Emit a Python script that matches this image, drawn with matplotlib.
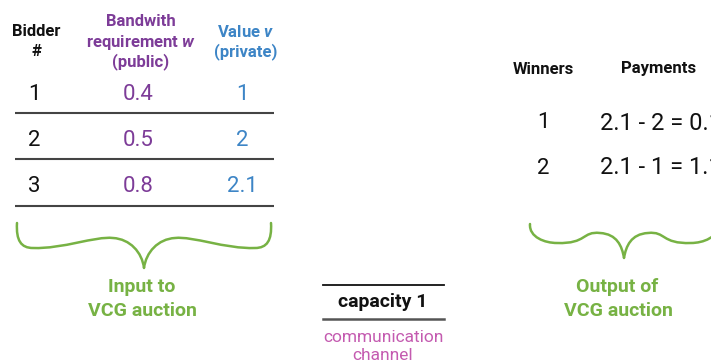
import matplotlib.pyplot as plt
from matplotlib.path import Path
from matplotlib.patches import PathPatch

plt.rcParams['font.family'] = ['Roboto', 'DejaVu Sans']
plt.rcParams['mathtext.fontset'] = 'custom'
plt.rcParams['mathtext.it'] = 'Roboto:italic:bold'

# data
bidders = [1, 2, 3]
bandwidth = [0.4, 0.5, 0.8]
values = [1, 2, 2.1]
winners = [1, 2]
pay_price = [2.1, 2.1]
pay_minus = [2, 1]
payments = [0.1, 1.1]
capacity = 1

PURPLE = '#7d3c98'
BLUE = '#3d85c6'
GREEN = '#77b244'
PINK = '#c45bb0'
DARK = '#111111'


def brace(ax, cx, top, xs, ys, color):
    # xs/ys: offsets of the key points from the centre (left half), mirrored for the right
    x0, x1, x2, x3 = xs
    y0, y1, y2, y3 = ys
    left = [(cx + x0, top + y0),
            (cx + x0 - 1, top + y1 * 0.7), (cx + x1 - 12, top + y1), (cx + x1, top + y1),
            (cx + x1 + 30, top + y1 + 1), (cx + x2 - 18, top + y2 - 2), (cx + x2, top + y2),
            (cx + x2 + 17, top + y2 + 1), (cx - 2, top + y3 * 0.65), (cx, top + y3)]
    right = [(2 * cx - x, y) for x, y in reversed(left)]
    verts = left + right[1:]
    codes = [Path.MOVETO] + [Path.CURVE4] * 9 + [Path.CURVE4] * 9
    ax.add_patch(PathPatch(Path(verts, codes), fill=False, edgecolor=color, lw=1.8,
                           capstyle='round', joinstyle='round'))


fig = plt.figure(figsize=(7.11, 3.62), dpi=100)
ax = fig.add_axes([0, 0, 1, 1])
ax.set_xlim(0, 711)
ax.set_ylim(362, 0)
ax.axis('off')

# input table header
hdr = dict(ha='center', va='center', fontsize=12, fontweight='bold')
ax.text(36, 32, 'Bidder', color=DARK, **hdr)
ax.text(36, 52, '#', color=DARK, **hdr)
ax.text(141, 22, 'Bandwith', color=PURPLE, **hdr)
ax.text(141, 42, 'requirement $w$', color=PURPLE, **hdr)
ax.text(141, 62, '(public)', color=PURPLE, **hdr)
ax.text(246, 32, 'Value $v$', color=BLUE, **hdr)
ax.text(246, 52, '(private)', color=BLUE, **hdr)

row_y = [94, 140, 186]
line_y = [113, 159, 206]
num = dict(ha='center', va='center', fontsize=16, fontweight='normal')
for b, w, v, ry, ly in zip(bidders, bandwidth, values, row_y, line_y):
    ax.text(34, ry, f'{b}', color=DARK, **num)
    ax.text(138, ry, f'{w:g}', color=PURPLE, **num)
    ax.text(242, ry, f'{v:g}', color=BLUE, **num)
    ax.plot([15, 274], [ly, ly], color='#444444', lw=1.5, solid_capstyle='butt')

brace(ax, 144, 223, (-127, -111, -31, 0), (0, 25, 15, 45), GREEN)
lab = dict(ha='center', va='center', fontsize=14, fontweight='bold', color=GREEN)
ax.text(142, 287, 'Input to', **lab)
ax.text(142, 311, 'VCG auction', **lab)

# channel
ax.plot([323, 444], [285, 285], color=DARK, lw=1.3)
ax.plot([323, 444], [319, 319], color='#555555', lw=1.8)
ax.text(383, 302, f'capacity {capacity}', ha='center', va='center', fontsize=14,
        fontweight='bold', color=DARK)
ax.text(383, 337, 'communication', ha='center', va='center', fontsize=12.5, color=PINK)
ax.text(383, 355, 'channel', ha='center', va='center', fontsize=12.5, color=PINK)

# output table (the payment column runs past the right edge, as in the original)
ax.text(543, 69, 'Winners', color=DARK, **hdr)
ax.text(659, 69, 'Payments', color=DARK, **hdr)
for i, (wn, p, m, pay) in enumerate(zip(winners, pay_price, pay_minus, payments)):
    ry = 123 + 45 * i
    ax.text(543, ry, f'{wn}', color=DARK, **num)
    ax.text(600, ry, f'{p:g} - {m:g} = {pay:g}', color=DARK, ha='left', va='center',
            fontsize=17, fontweight='normal')

brace(ax, 624, 224, (-94, -67, -24, 0), (0, 19, 9, 34), GREEN)
ax.text(617, 287, 'Output of', **lab)
ax.text(618, 311, 'VCG auction', **lab)

fig.savefig('out.png', dpi=100)
